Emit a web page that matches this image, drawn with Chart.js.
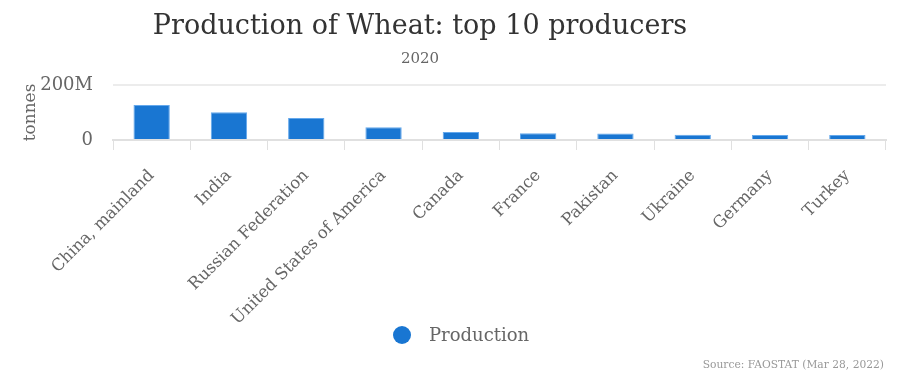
<!DOCTYPE html>
<html>
<head>
<meta charset="utf-8">
<script src="https://cdn.jsdelivr.net/npm/chart.js@4"></script>
<style>
  html, body { margin: 0; padding: 0; background: #fff; }
</style>
</head>
<body>
<canvas id="myChart" width="900" height="375"></canvas>
<script>
var countries = ["China, mainland", "India", "Russian Federation", "United States of America", "Canada",
    "France", "Pakistan", "Ukraine", "Germany", "Turkey"];
// tonnes
var production = [127e6, 101e6, 80e6, 46e6, 29e6, 25e6, 24e6, 19e6, 18e6, 18e6];
var yTicks = [0, 200e6];
var yTickText = ["0", "200M"];

var serif = "'DejaVu Serif', serif";
var blue = "#1976d2";

// title, subtitle, legend and source drawn by hand so they sit where the original has them
var headerFooter = {
    id: 'headerFooter',
    afterDraw: function (chart) {
        var ctx = chart.ctx;
        ctx.save();
        ctx.textAlign = "center";
        ctx.textBaseline = "middle";
        ctx.fillStyle = "#333333";
        ctx.font = "27px " + serif;
        ctx.fillText("Production of Wheat: top 10 producers", 420, 27);
        ctx.fillStyle = "#666666";
        ctx.font = "15px " + serif;
        ctx.fillText("2020", 420, 59);

        // legend
        var ds = chart.data.datasets[0];
        ctx.fillStyle = ds.backgroundColor;
        ctx.beginPath();
        ctx.arc(402, 335, 9, 0, Math.PI * 2);
        ctx.fill();
        ctx.fillStyle = "#666666";
        ctx.font = "18px " + serif;
        ctx.textAlign = "left";
        ctx.fillText(ds.label, 429, 336);

        ctx.font = "10.7px " + serif;
        ctx.fillStyle = "#999999";
        ctx.textAlign = "right";
        ctx.textBaseline = "alphabetic";
        ctx.fillText("Source: FAOSTAT (Mar 28, 2022)", 884, 368);
        ctx.restore();
    }
};

var data = {
    labels: countries,
    datasets: [{
        label: "Production",
        data: production,
        backgroundColor: blue,
        borderColor: "#64a8ec",
        borderWidth: 1,
        barPercentage: 0.94,
        categoryPercentage: 0.5
    }]
};

var config = {
    type: 'bar',
    data: data,
    plugins: [headerFooter],
    options: {
        responsive: false,
        animation: false,
        layout: { padding: { left: 20, right: 14, top: 85, bottom: 0 } },
        plugins: {
            title: { display: false },
            legend: { display: false },
            tooltip: { enabled: false }
        },
        scales: {
            x: {
                afterFit: function (axis) {
                    axis.height = 235;
                    axis.paddingLeft = 0;
                    axis.paddingRight = 0;
                },
                grid: {
                    offset: true,
                    drawOnChartArea: false,
                    color: "#e0e0e0",
                    tickLength: 10
                },
                border: { color: "#e0e0e0", width: 2 },
                ticks: {
                    color: "#666666",
                    font: { family: serif, size: 16.5 },
                    padding: 16,
                    maxRotation: 45,
                    minRotation: 45,
                    autoSkip: false
                }
            },
            y: {
                min: 0,
                max: 200e6,
                afterBuildTicks: function (axis) {
                    axis.ticks = yTicks.map(function (v) { return { value: v }; });
                },
                afterFit: function (axis) {
                    axis.width = 93;
                },
                grid: { color: "#ececec", drawTicks: false, lineWidth: 2 },
                border: { display: false },
                ticks: {
                    color: "#666666",
                    font: { family: serif, size: 18 },
                    padding: 20,
                    callback: function (v) { return yTickText[yTicks.indexOf(v)]; }
                },
                title: {
                    display: true,
                    text: "tonnes",
                    color: "#666666",
                    font: { family: serif, size: 17 },
                    padding: 0
                }
            }
        }
    }
};

var ctx = document.getElementById("myChart").getContext('2d');
var myChart = new Chart(ctx, config);
</script>
</body>
</html>
